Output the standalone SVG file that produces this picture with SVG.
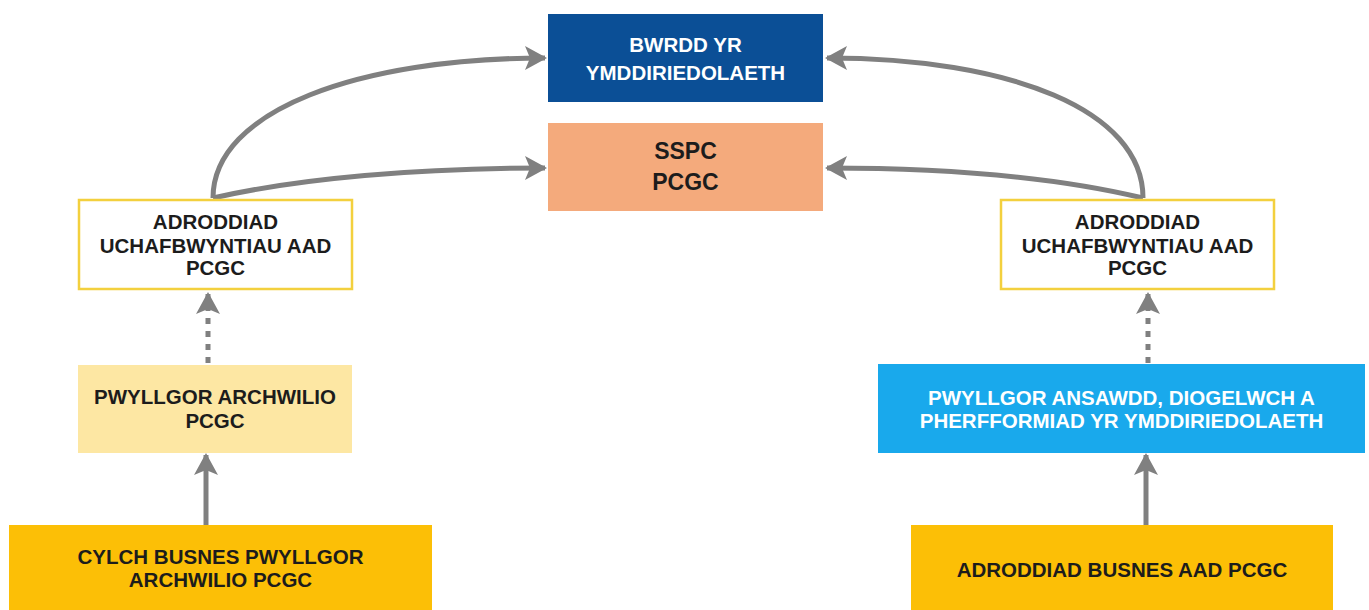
<svg xmlns="http://www.w3.org/2000/svg" width="1369" height="610" viewBox="0 0 1369 610">
<style>
text{font-family:"Liberation Sans",Arial,sans-serif;font-weight:bold;font-size:20.5px;text-anchor:middle}
.dk{fill:#1c1c1c}
.wt{fill:#ffffff}
.conn{fill:none;stroke:#808080;stroke-width:5}
.dot{stroke-dasharray:6 7}
</style>
<defs>
<marker id="ah" viewBox="0 0 22 24" refX="20" refY="12" markerWidth="22" markerHeight="24" markerUnits="userSpaceOnUse" orient="auto">
<path d="M0,0 L22,12 L0,24 L5,12 z" fill="#808080"/>
</marker>
</defs>
<rect width="1369" height="610" fill="#ffffff"/>
<g id="connectors">
<path class="conn" d="M213,198 C213,110 360,58 545,58" marker-end="url(#ah)"/>
<path class="conn" d="M213,198 C300,178 420,168 545,168" marker-end="url(#ah)"/>
<path class="conn" d="M1143,198 C1143,110 1010,58 827,58" marker-end="url(#ah)"/>
<path class="conn" d="M1143,198 C1060,178 950,168 827,168" marker-end="url(#ah)"/>
<path class="conn dot" d="M208,363 L208,294" marker-end="url(#ah)"/>
<path class="conn dot" d="M1148,363 L1148,294" marker-end="url(#ah)"/>
<path class="conn" d="M206,525 L206,455" marker-end="url(#ah)"/>
<path class="conn" d="M1146,525 L1146,455" marker-end="url(#ah)"/>
</g>
<g id="bwrdd">
<rect x="548" y="14" width="275" height="88" fill="#0b4f96"/>
<text class="wt" x="685.5" y="52">BWRDD YR</text>
<text class="wt" x="685.5" y="80">YMDDIRIEDOLAETH</text>
</g>
<g id="sspc">
<rect x="548" y="123" width="275" height="88" fill="#f4aa7c"/>
<text class="dk" x="685.5" y="159" style="font-size:23px">SSPC</text>
<text class="dk" x="685.5" y="190" style="font-size:23px">PCGC</text>
</g>
<g id="adroddiad-left">
<rect x="79" y="200" width="273" height="89" fill="#ffffff" stroke="#f3d03e" stroke-width="2.5"/>
<text class="dk" x="215.5" y="229">ADRODDIAD</text>
<text class="dk" x="215.5" y="253">UCHAFBWYNTIAU AAD</text>
<text class="dk" x="215.5" y="275">PCGC</text>
</g>
<g id="adroddiad-right">
<rect x="1001" y="200" width="273" height="89" fill="#ffffff" stroke="#f3d03e" stroke-width="2.5"/>
<text class="dk" x="1137.5" y="229">ADRODDIAD</text>
<text class="dk" x="1137.5" y="253">UCHAFBWYNTIAU AAD</text>
<text class="dk" x="1137.5" y="275">PCGC</text>
</g>
<g id="pwyllgor-archwilio">
<rect x="78" y="365" width="274" height="88" fill="#fde7a3"/>
<text class="dk" x="215" y="404">PWYLLGOR ARCHWILIO</text>
<text class="dk" x="215" y="428">PCGC</text>
</g>
<g id="pwyllgor-ansawdd">
<rect x="878" y="364" width="487" height="89" fill="#19a9ec"/>
<text class="wt" x="1121.5" y="405">PWYLLGOR ANSAWDD, DIOGELWCH A</text>
<text class="wt" x="1121.5" y="428">PHERFFORMIAD YR YMDDIRIEDOLAETH</text>
</g>
<g id="cylch-busnes">
<rect x="9" y="525" width="423" height="90" fill="#fcbf06"/>
<text class="dk" x="220.5" y="564">CYLCH BUSNES PWYLLGOR</text>
<text class="dk" x="220.5" y="587">ARCHWILIO PCGC</text>
</g>
<g id="adroddiad-busnes">
<rect x="911" y="525" width="422" height="90" fill="#fcbf06"/>
<text class="dk" x="1122" y="577">ADRODDIAD BUSNES AAD PCGC</text>
</g>
</svg>
